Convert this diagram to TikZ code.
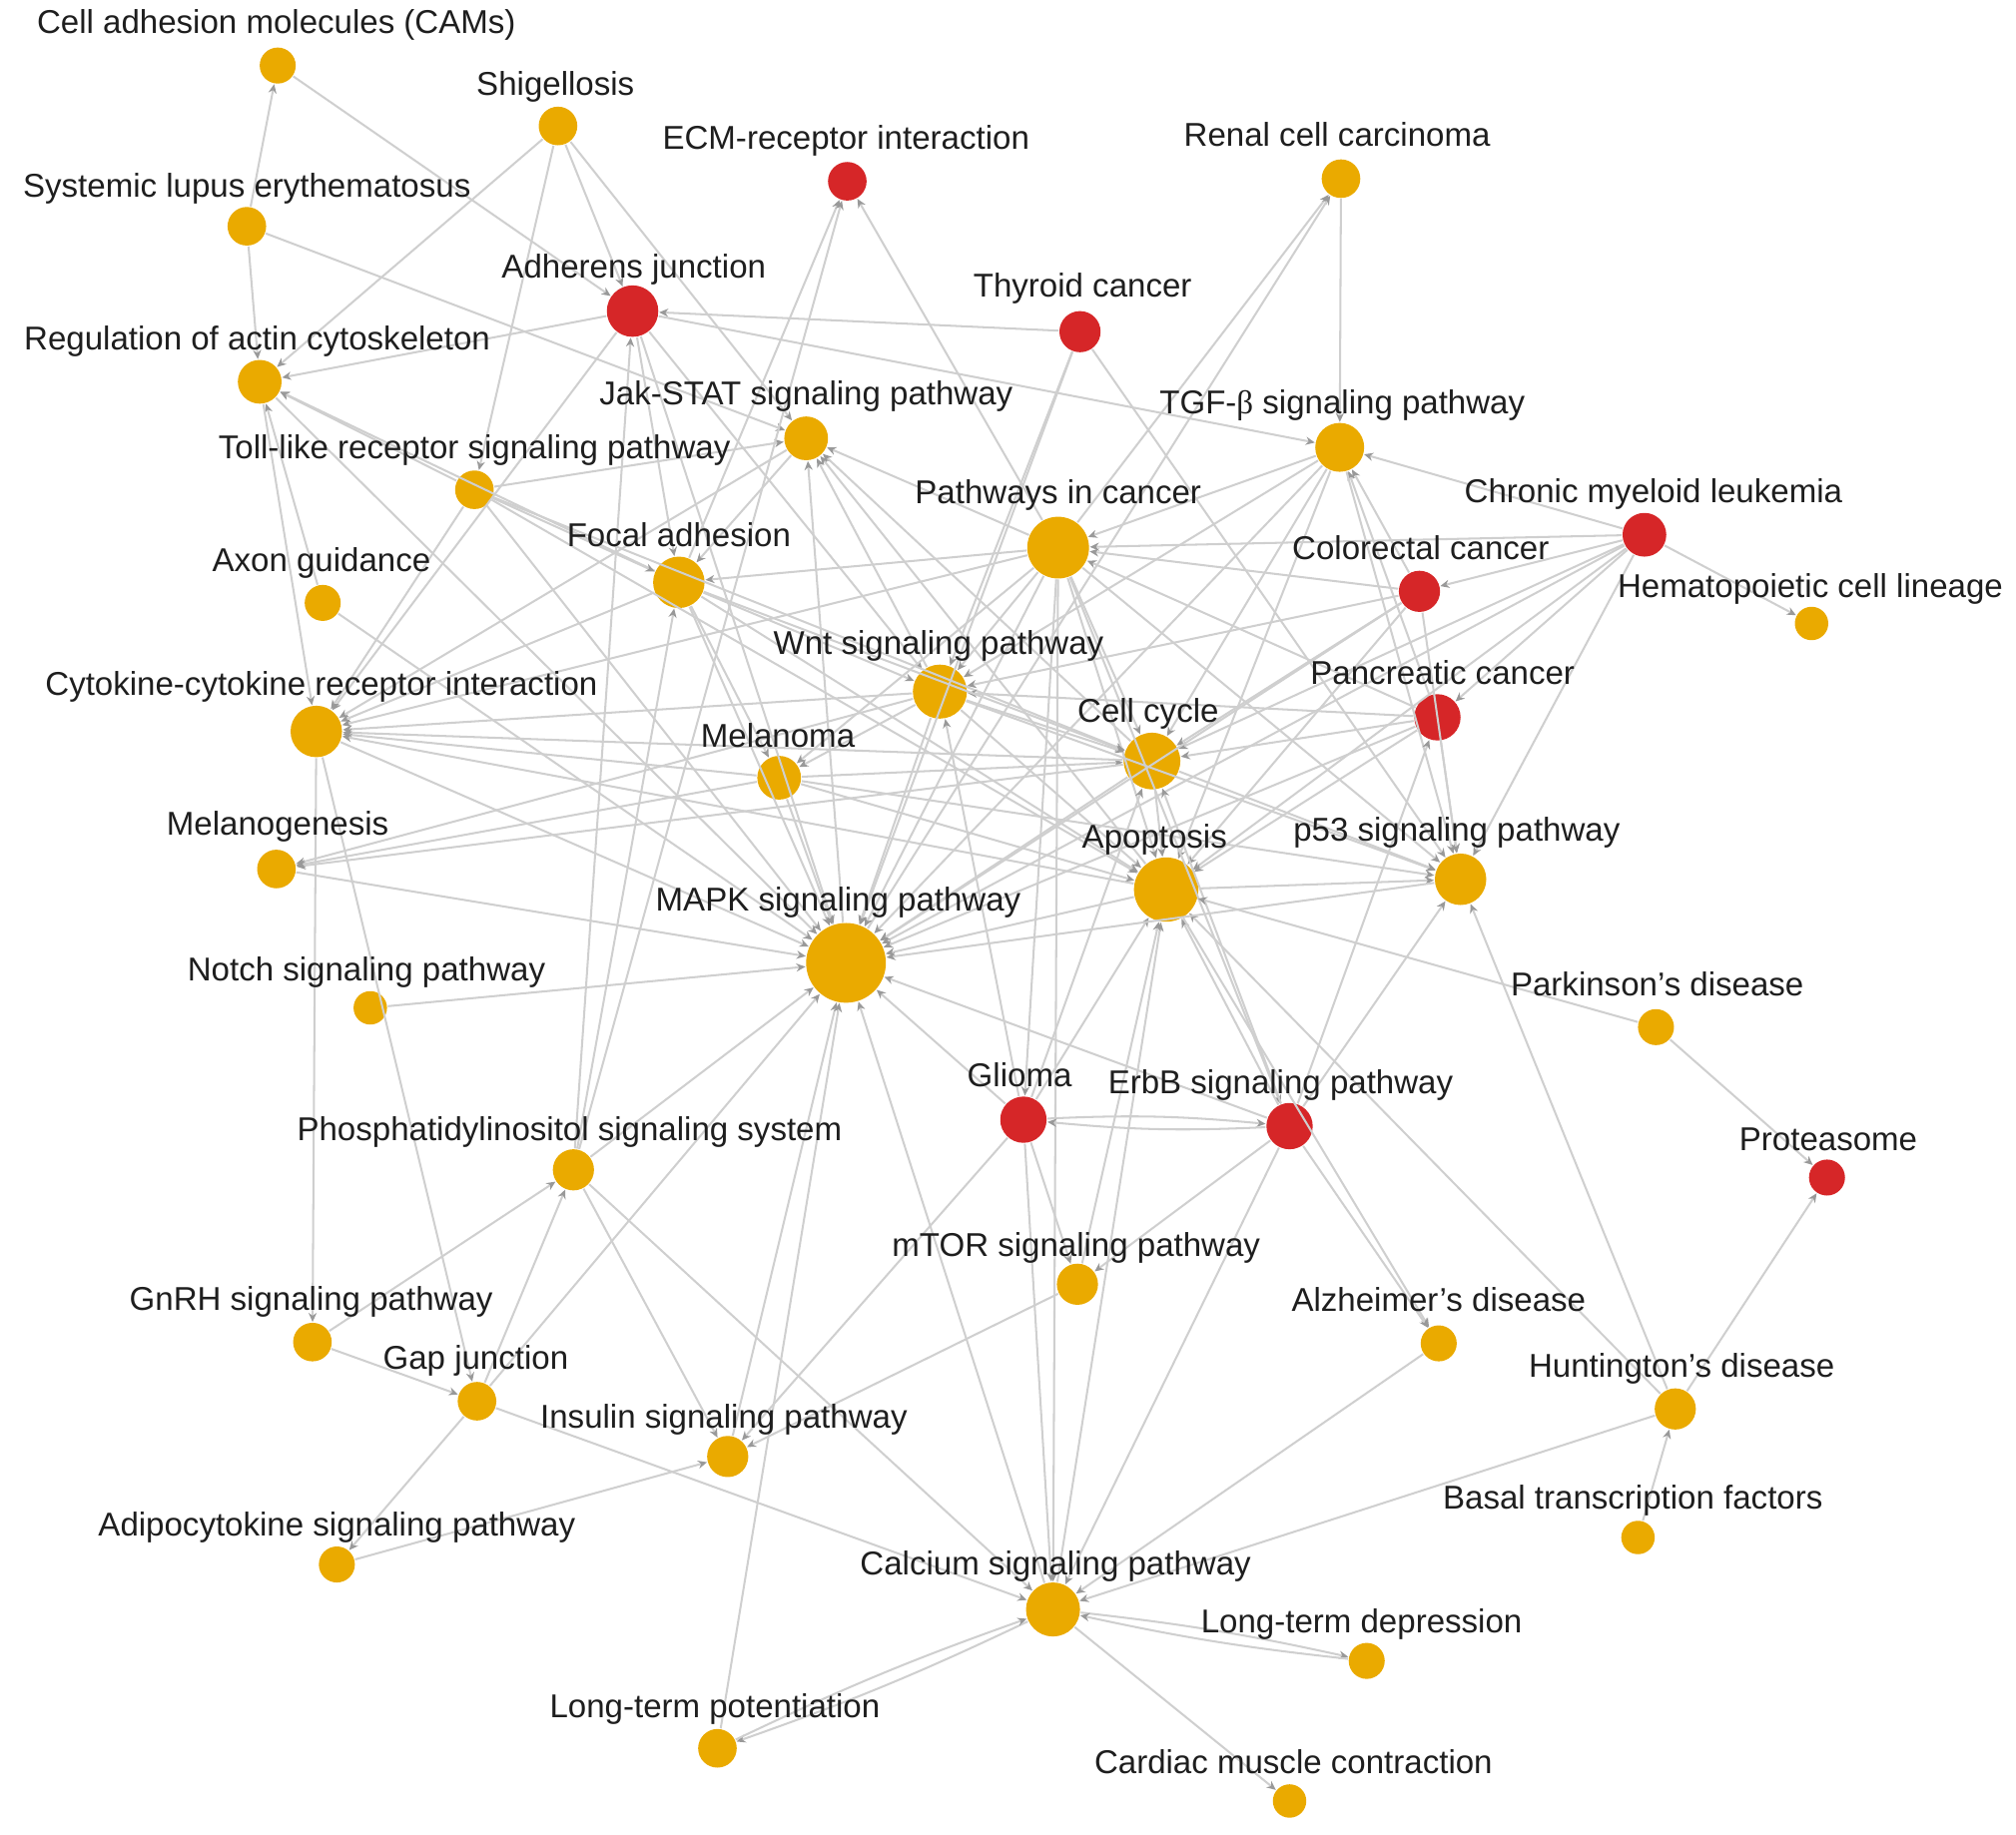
\documentclass[tikz,border=0pt]{standalone}
\usepackage{fontspec}
\setmainfont{Liberation Sans}
\newfontfamily\betafont{Liberation Serif}
\usetikzlibrary{arrows.meta}
\definecolor{nodeorange}{RGB}{234,170,0}
\definecolor{nodered}{RGB}{214,38,40}
\definecolor{labtext}{RGB}{30,30,30}
\begin{document}
\begin{tikzpicture}[x=0.01cm,y=-0.01cm,
  onode/.style={circle,fill=nodeorange,inner sep=0pt,minimum size=#1},
  rnode/.style={circle,fill=nodered,inner sep=0pt,minimum size=#1},
  lab/.style={font=\fontsize{7.3}{8}\selectfont,text=labtext,anchor=base,inner sep=0pt},
  edge/.style={draw=black!19,line width=0.45pt,-{Stealth[length=2pt,width=1.8pt,color=black!40]}}]
\useasboundingbox (0,0) rectangle (1568,1427);
% nodes
\node[onode=0.28cm] (cam) at (216,51) {};
\node[onode=0.30cm] (shig) at (434,98) {};
\node[rnode=0.30cm] (ecm) at (659,141) {};
\node[onode=0.30cm] (renal) at (1043,139) {};
\node[onode=0.30cm] (sle) at (192,176) {};
\node[rnode=0.40cm] (adh) at (492,242) {};
\node[rnode=0.32cm] (thy) at (840,258) {};
\node[onode=0.34cm] (rac) at (202,297) {};
\node[onode=0.34cm] (jak) at (627,341) {};
\node[onode=0.38cm] (tgf) at (1042,348) {};
\node[onode=0.30cm] (tlr) at (369,381) {};
\node[onode=0.48cm] (pic) at (823,426) {};
\node[rnode=0.34cm] (cml) at (1279,416) {};
\node[onode=0.28cm] (axon) at (251,469) {};
\node[onode=0.40cm] (foc) at (528,453) {};
\node[rnode=0.32cm] (crc) at (1104,460) {};
\node[onode=0.26cm] (hem) at (1409,485) {};
\node[onode=0.42cm] (wnt) at (731,538) {};
\node[rnode=0.36cm] (pan) at (1118,558) {};
\node[onode=0.40cm] (cyt) at (246,569) {};
\node[onode=0.44cm] (cc) at (896,592) {};
\node[onode=0.34cm] (mel) at (606,605) {};
\node[onode=0.30cm] (mgen) at (215,676) {};
\node[onode=0.50cm] (apo) at (907,692) {};
\node[onode=0.40cm] (p53) at (1136,684) {};
\node[onode=0.62cm] (mapk) at (658,749) {};
\node[onode=0.26cm] (notch) at (288,784) {};
\node[onode=0.28cm] (park) at (1288,799) {};
\node[rnode=0.36cm] (gli) at (796,871) {};
\node[rnode=0.36cm] (erbb) at (1003,876) {};
\node[onode=0.32cm] (pis) at (446,910) {};
\node[rnode=0.28cm] (prot) at (1421,916) {};
\node[onode=0.32cm] (mtor) at (838,999) {};
\node[onode=0.30cm] (gnrh) at (243,1044) {};
\node[onode=0.28cm] (alz) at (1119,1045) {};
\node[onode=0.30cm] (gap) at (371,1090) {};
\node[onode=0.32cm] (hunt) at (1303,1096) {};
\node[onode=0.32cm] (ins) at (566,1133) {};
\node[onode=0.26cm] (btf) at (1274,1196) {};
\node[onode=0.28cm] (adipo) at (262,1217) {};
\node[onode=0.42cm] (cal) at (819,1252) {};
\node[onode=0.28cm] (ltd) at (1063,1292) {};
\node[onode=0.30cm] (ltp) at (558,1360) {};
\node[onode=0.26cm] (card) at (1003,1401) {};
% edges
\foreach \a/\b in {sle/cam,cam/adh,sle/rac,sle/jak,shig/rac,shig/tlr,shig/adh,shig/jak,
 adh/rac,thy/adh,adh/tgf,adh/foc,adh/cyt,adh/wnt,adh/mapk,
 tlr/rac,foc/rac,axon/rac,rac/cyt,rac/mapk,
 tlr/jak,tlr/foc,tlr/cyt,tlr/mapk,tlr/apo,tlr/cc,
 foc/ecm,pic/ecm,pis/ecm,renal/tgf,pic/renal,mapk/renal,
 thy/mapk,thy/wnt,thy/p53,
 jak/foc,pic/jak,wnt/jak,cc/jak,apo/jak,mapk/jak,jak/cyt,
 tgf/pic,cml/tgf,crc/tgf,pan/tgf,tgf/cc,tgf/apo,tgf/wnt,tgf/mapk,tgf/p53,
 cml/crc,cml/pic,cml/pan,cml/cc,cml/apo,cml/p53,cml/hem,cml/mapk,
 crc/pic,crc/cc,crc/apo,crc/p53,crc/wnt,crc/mapk,
 pan/pic,pan/cc,pan/apo,pan/p53,pan/mapk,erbb/pan,pan/wnt,
 pic/foc,pic/wnt,pic/cc,pic/apo,pic/mapk,pic/p53,pic/gli,pic/erbb,pic/cal,pic/mel,pic/cyt,
 foc/wnt,foc/cc,foc/apo,foc/mapk,foc/mel,foc/cyt,pis/foc,pis/adh,
 wnt/cc,wnt/apo,wnt/mapk,wnt/mel,wnt/cyt,wnt/mgen,wnt/p53,gli/wnt,
 cc/apo,cc/p53,cc/mapk,mel/cc,cc/mgen,gli/cc,erbb/cc,cc/cyt,
 mel/mapk,mel/apo,mel/mgen,mel/cyt,mel/p53,
 mgen/mapk,apo/cyt,
 apo/p53,apo/mapk,gli/apo,erbb/apo,apo/alz,park/apo,hunt/apo,cal/apo,mtor/apo,
 p53/mapk,erbb/p53,hunt/p53,
 notch/mapk,cyt/mapk,axon/mapk,pis/mapk,gap/mapk,ins/mapk,ltp/mapk,cal/mapk,gli/mapk,erbb/mapk,
 park/prot,hunt/prot,btf/hunt,hunt/cal,
 gli/cal,gli/mtor,gli/ins,
 erbb/alz,erbb/cal,erbb/mtor,
 alz/cal,mtor/ins,
 cyt/gnrh,cyt/gap,
 gnrh/pis,gnrh/gap,gap/pis,gap/adipo,gap/cal,adipo/ins,pis/ins,pis/cal,cal/card}
 \draw[edge] (\a) -- (\b);
\draw[edge] (gli) to[bend left=4] (erbb);
\draw[edge] (erbb) to[bend left=4] (gli);
\draw[edge] (cal) to[bend left=3] (ltd);
\draw[edge] (ltd) to[bend left=3] (cal);
\draw[edge] (cal) to[bend left=3] (ltp);
\draw[edge] (ltp) to[bend left=3] (cal);
% labels
\node[lab] (lcam) at (215,26) {Cell adhesion molecules (CAMs)};
\node[lab] (lshig) at (432,74) {Shigellosis};
\node[lab] (lecm) at (658,116) {ECM-receptor interaction};
\node[lab] (lrenal) at (1040,114) {Renal cell carcinoma};
\node[lab] (lsle) at (192,153) {Systemic lupus erythematosus};
\node[lab] (ladh) at (493,216) {Adherens junction};
\node[lab] (lthy) at (842,231) {Thyroid cancer};
\node[lab] (lrac) at (200,272) {Regulation of actin cytoskeleton};
\node[lab] (ljak) at (627,315) {Jak-STAT signaling pathway};
\node[lab] (ltgf) at (1044,322) {TGF-{\betafont β} signaling pathway};
\node[lab] (ltlr) at (369,357) {Toll-like receptor signaling pathway};
\node[lab] (lpic) at (823,392) {Pathways in cancer};
\node[lab] (lcml) at (1286,391) {Chronic myeloid leukemia};
\node[lab] (laxon) at (250,445) {Axon guidance};
\node[lab] (lfoc) at (528,425) {Focal adhesion};
\node[lab] (lcrc) at (1105,435) {Colorectal cancer};
\node[lab] (lhem) at (1408,465) {Hematopoietic cell lineage};
\node[lab] (lwnt) at (730,509) {Wnt signaling pathway};
\node[lab] (lpan) at (1122,532) {Pancreatic cancer};
\node[lab] (lcyt) at (250,541) {Cytokine-cytokine receptor interaction};
\node[lab] (lcc) at (893,562) {Cell cycle};
\node[lab] (lmel) at (605,581) {Melanoma};
\node[lab] (lmgen) at (216,650) {Melanogenesis};
\node[lab] (lapo) at (898,660) {Apoptosis};
\node[lab] (lp53) at (1133,654) {p53 signaling pathway};
\node[lab] (lmapk) at (652,709) {MAPK signaling pathway};
\node[lab] (lnotch) at (285,763) {Notch signaling pathway};
\node[lab] (lpark) at (1289,775) {Parkinson’s disease};
\node[lab] (lgli) at (793,845) {Glioma};
\node[lab] (lerbb) at (996,851) {ErbB signaling pathway};
\node[lab] (lpis) at (443,887) {Phosphatidylinositol signaling system};
\node[lab] (lprot) at (1422,895) {Proteasome};
\node[lab] (lmtor) at (837,977) {mTOR signaling pathway};
\node[lab] (lgnrh) at (242,1019) {GnRH signaling pathway};
\node[lab] (lalz) at (1119,1020) {Alzheimer’s disease};
\node[lab] (lgap) at (370,1065) {Gap junction};
\node[lab] (lhunt) at (1308,1071) {Huntington’s disease};
\node[lab] (lins) at (563,1111) {Insulin signaling pathway};
\node[lab] (lbtf) at (1270,1174) {Basal transcription factors};
\node[lab] (ladipo) at (262,1195) {Adipocytokine signaling pathway};
\node[lab] (lcal) at (821,1225) {Calcium signaling pathway};
\node[lab] (lltd) at (1059,1270) {Long-term depression};
\node[lab] (lltp) at (556,1336) {Long-term potentiation};
\node[lab] (lcard) at (1006,1380) {Cardiac muscle contraction};
\end{tikzpicture}
\end{document}
